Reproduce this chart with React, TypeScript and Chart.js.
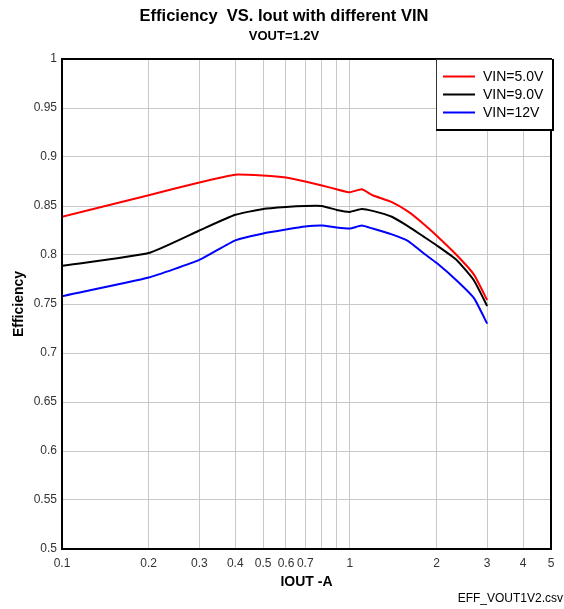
import React, { useEffect, useRef } from "react";
import { Chart, registerables } from "chart.js";

Chart.register(...registerables);

const iout = [0.1, 0.2, 0.3, 0.4, 0.5, 0.6, 0.7, 0.8, 0.9, 1.0, 1.1, 1.2, 1.4, 1.6, 1.8, 2, 2.35, 2.7, 3];
const vin5 = [0.839, 0.861, 0.874, 0.882, 0.881, 0.879, 0.875, 0.871, 0.867, 0.864, 0.867, 0.861, 0.854, 0.844, 0.832, 0.82, 0.8, 0.78, 0.754];
const vin9 = [0.789, 0.802, 0.825, 0.841, 0.847, 0.849, 0.85, 0.85, 0.846, 0.844, 0.847, 0.845, 0.839, 0.829, 0.819, 0.81, 0.795, 0.774, 0.748];
const vin12 = [0.758, 0.777, 0.795, 0.815, 0.822, 0.826, 0.829, 0.83, 0.828, 0.827, 0.83, 0.827, 0.821, 0.814, 0.802, 0.792, 0.774, 0.756, 0.73];
const seriesNames = ["VIN=5.0V", "VIN=9.0V", "VIN=12V"];
const seriesColors = ["#ff0000", "#000000", "#0000ff"];

const xTickValues = [0.1, 0.2, 0.3, 0.4, 0.5, 0.6, 0.7, 0.8, 0.9, 1, 2, 3, 4, 5];
const xTickLabels = ["0.1", "0.2", "0.3", "0.4", "0.5", "0.6", "0.7", "", "", "1", "2", "3", "4", "5"];

const titleText = "Efficiency  VS. Iout with different VIN";
const subtitleText = "VOUT=1.2V";
const xTitle = "IOUT -A";
const yTitle = "Efficiency";
const footnote = "EFF_VOUT1V2.csv";

const FONT = "'Liberation Sans', Arial, sans-serif";

const decorPlugin = {
  id: "decor",
  afterDraw(chart: any) {
    const ctx = chart.ctx;
    const a = chart.chartArea;
    ctx.save();
    ctx.strokeStyle = "#000";
    ctx.lineWidth = 2;
    ctx.strokeRect(a.left, a.top, a.right - a.left, a.bottom - a.top);

    ctx.fillStyle = "#000";
    ctx.textAlign = "center";
    ctx.textBaseline = "alphabetic";
    ctx.font = `bold 16.5px ${FONT}`;
    ctx.fillText(titleText, 284, 21);
    ctx.font = `bold 13px ${FONT}`;
    ctx.fillText(subtitleText, 284, 40);
    ctx.font = `bold 14px ${FONT}`;
    ctx.fillText(xTitle, (a.left + a.right) / 2, 586);
    ctx.save();
    ctx.translate(23, (a.top + a.bottom) / 2);
    ctx.rotate(-Math.PI / 2);
    ctx.fillText(yTitle, 0, 0);
    ctx.restore();
    ctx.font = `12px ${FONT}`;
    ctx.textAlign = "right";
    ctx.fillText(footnote, 563, 602);

    const lx = 436, ly = 59, lw = 116, lh = 70;
    ctx.fillStyle = "#fff";
    ctx.fillRect(lx, ly, lw, lh);
    ctx.strokeStyle = "#333";
    ctx.lineWidth = 1;
    ctx.strokeRect(lx + 0.5, ly + 0.5, lw, lh);
    ctx.strokeStyle = "#000";
    ctx.lineWidth = 2;
    ctx.beginPath();
    ctx.moveTo(lx + lw + 1, ly);
    ctx.lineTo(lx + lw + 1, ly + lh + 2);
    ctx.moveTo(lx, ly + lh + 1);
    ctx.lineTo(lx + lw + 2, ly + lh + 1);
    ctx.stroke();
    ctx.font = `14px ${FONT}`;
    ctx.textAlign = "left";
    ctx.textBaseline = "middle";
    chart.data.datasets.forEach((ds: any, i: number) => {
      const y = 76.5 + i * 18;
      ctx.strokeStyle = ds.borderColor;
      ctx.lineWidth = 2;
      ctx.beginPath();
      ctx.moveTo(443, y);
      ctx.lineTo(475, y);
      ctx.stroke();
      ctx.fillStyle = "#000";
      ctx.fillText(ds.label, 483, y + 1);
    });
    ctx.restore();
  },
};

export default function App() {
  const ref = useRef<HTMLCanvasElement>(null);
  useEffect(() => {
    if (!ref.current) return;
    const mk = (vals: number[]) => iout.map((x, i) => ({ x, y: vals[i] }));
    const chart = new Chart(ref.current, {
      type: "line",
      data: {
        datasets: [vin5, vin9, vin12].map((v, i) => ({
          label: seriesNames[i],
          data: mk(v),
          borderColor: seriesColors[i],
          backgroundColor: seriesColors[i],
          borderWidth: 2,
          pointRadius: 0,
          tension: 0.15,
          fill: false,
        })),
      },
      options: {
        responsive: false,
        animation: false,
        events: [],
        layout: { padding: { left: 0, top: 59, right: 13, bottom: 0 } },
        plugins: { legend: { display: false }, title: { display: false }, tooltip: { enabled: false } },
        scales: {
          x: {
            type: "logarithmic",
            min: 0.1,
            max: 5,
            afterBuildTicks: (scale: any) => {
              scale.ticks = xTickValues.map((v) => ({ value: v }));
            },
            afterFit: (scale: any) => {
              scale.height = 60;
            },
            ticks: {
              autoSkip: false,
              maxRotation: 0,
              padding: 7,
              color: "#333",
              font: { family: FONT, size: 12 },
              callback: (_v: any, i: number) => xTickLabels[i],
            },
            grid: { color: "#c8c8c8", lineWidth: 1, drawTicks: false },
            border: { display: false },
          },
          y: {
            type: "linear",
            min: 0.5,
            max: 1,
            afterFit: (scale: any) => {
              scale.width = 62;
            },
            ticks: {
              stepSize: 0.05,
              padding: 5,
              color: "#333",
              font: { family: FONT, size: 12 },
              callback: (v: any) => String(Math.round(Number(v) * 100) / 100),
            },
            grid: { color: "#c8c8c8", lineWidth: 1, drawTicks: false },
            border: { display: false },
          },
        },
      },
      plugins: [decorPlugin],
    } as any);
    return () => chart.destroy();
  }, []);
  return (
    <div style={{ position: "fixed", left: 0, top: 0, width: 564, height: 609, background: "#fff" }}>
      <canvas ref={ref} width={564} height={609} />
    </div>
  );
}
